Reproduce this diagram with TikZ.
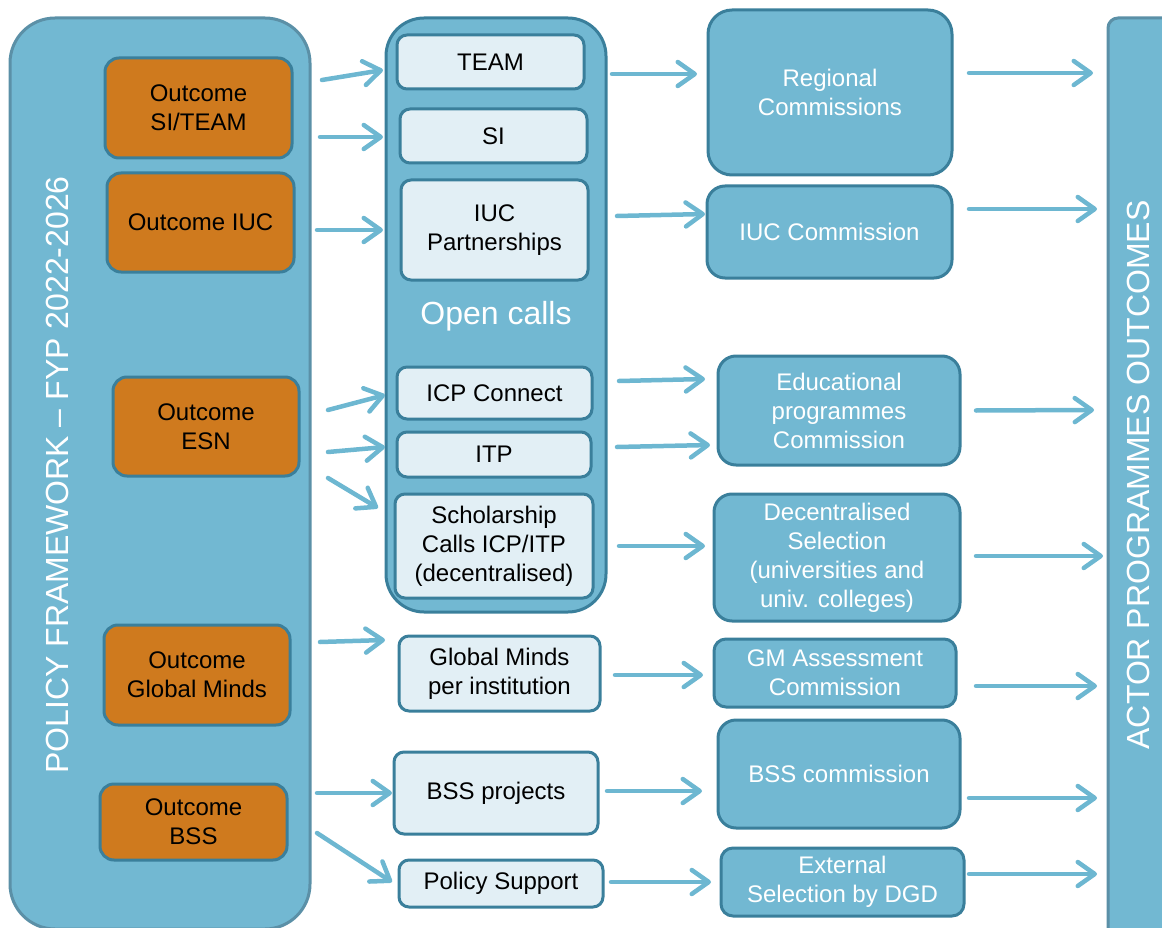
\documentclass[tikz,border=0pt]{standalone}
\usepackage{fontspec}
\setmainfont{Liberation Sans}
\usetikzlibrary{arrows.meta,calc}
\definecolor{bfill}{HTML}{72B8D2}
\definecolor{bdraw}{HTML}{3A7F9B}
\definecolor{gdraw}{HTML}{5B90A7}
\definecolor{lfill}{HTML}{E2EFF5}
\definecolor{ofill}{HTML}{CF7A1E}
\definecolor{acol}{HTML}{6DB7D1}
\tikzset{
  every node/.style={inner sep=0pt, outer sep=0pt, align=center, font=\fontsize{24}{29}\selectfont},
  bx/.style={draw, line width=3pt, anchor=north west},
  obox/.style={bx, fill=ofill, draw=bdraw, rounded corners=14pt, text=black},
  lbox/.style={bx, fill=lfill, draw=bdraw, rounded corners=10pt, text=black},
  bbox/.style={bx, fill=bfill, draw=bdraw, rounded corners=18pt, text=white},
  big/.style={bx, fill=bfill, draw=gdraw},
  vtext/.style={rotate=90, text=white, font=\fontsize{32}{38}\selectfont},
  arr/.style={draw=acol, line width=4.5pt, line cap=round,
    -{Straight Barb[length=17pt, width=24pt, line cap=round, line join=round]}}
}
\begin{document}
\begin{tikzpicture}[x=1pt,y=-1pt]
\useasboundingbox (0,0) rectangle (1162,928);
\clip (0,0) rectangle (1162,928);
% containers
\node[big, rounded corners=45pt, minimum width=300pt, minimum height=911pt] (lf) at (10,18) {};
\node[vtext] (lft) at (57,475) {POLICY FRAMEWORK – FYP 2022-2026};
\node[big, draw=bdraw, rounded corners=38pt, minimum width=220pt, minimum height=594pt] (mid) at (386,18) {};
\node[text=white, font=\fontsize{32}{38}\selectfont] (open) at (496,316) {Open calls};
\node[big, rounded corners=10pt, minimum width=72pt, minimum height=922pt] (rt) at (1108,18) {};
\node[vtext] (rtt) at (1138,475) {ACTOR PROGRAMMES OUTCOMES};
% outcomes
\node[obox, minimum width=187pt, minimum height=100pt] (o1) at (105,58) {Outcome\\SI/TEAM};
\node[obox, minimum width=187pt, minimum height=99pt] (o2) at (107,173) {Outcome IUC};
\node[obox, minimum width=186pt, minimum height=99pt] (o3) at (113,377) {Outcome\\ESN};
\node[obox, minimum width=186pt, minimum height=100pt] (o4) at (104,625) {Outcome\\Global Minds};
\node[obox, minimum width=187pt, minimum height=76pt] (o5) at (100,784) {Outcome\\BSS};
% programmes
\node[lbox, minimum width=187pt, minimum height=54pt] (team) at (397,35) {TEAM};
\node[lbox, minimum width=187pt, minimum height=54pt] (si) at (400,109) {SI};
\node[lbox, minimum width=187pt, minimum height=100pt] (iuc) at (401,180) {IUC\\Partnerships};
\node[lbox, minimum width=195pt, minimum height=52pt] (icp) at (397,367) {ICP Connect};
\node[lbox, minimum width=194pt, minimum height=45pt] (itp) at (397,432) {ITP};
\node[lbox, minimum width=198pt, minimum height=104pt] (sch) at (395,494) {Scholarship\\Calls ICP/ITP\\(decentralised)};
\node[lbox, minimum width=201pt, minimum height=75pt] (gm) at (399,636) {Global Minds\\per institution};
\node[lbox, minimum width=204pt, minimum height=82pt] (bss) at (394,752) {BSS projects};
\node[lbox, minimum width=204pt, minimum height=47pt] (pol) at (399,860) {Policy Support};
% commissions
\node[bbox, rounded corners=24pt, minimum width=244pt, minimum height=165pt] (reg) at (708,10) {Regional\\Commissions};
\node[bbox, minimum width=245pt, minimum height=92pt] (iucc) at (707,186) {IUC Commission};
\node[bbox, minimum width=242pt, minimum height=109pt] (edu) at (718,356) {Educational\\programmes\\Commission};
\node[bbox, minimum width=246pt, minimum height=127pt] (dec) at (714,494) {Decentralised\\Selection\\(universities and\\univ. colleges)};
\node[bbox, rounded corners=12pt, minimum width=242pt, minimum height=68pt] (gma) at (714,639) {GM Assessment\\Commission};
\node[bbox, minimum width=242pt, minimum height=108pt] (bssc) at (718,720) {BSS commission};
\node[bbox, rounded corners=12pt, minimum width=243pt, minimum height=68pt] (ext) at (721,848) {External\\Selection by DGD};
% arrows: outcomes -> programmes
\draw[arr] ($(o1.east)+(30,-28)$) -- ($(team.west)+(-14,8)$);
\draw[arr] ($(o1.east)+(28,29)$) -- ($(si.west)+(-17,1)$);
\draw[arr] ($(o2.east)+(23,7.5)$) -- ($(iuc.west)+(-18,0)$);
\draw[arr] ($(o3.east)+(29,-16.5)$) -- ($(icp.west)+(-12,2)$);
\draw[arr] ($(o3.east)+(29,25.5)$) -- ($(itp.west)+(-12,-7.5)$);
\draw[arr] ($(o3.east)+(29,51.5)$) -- ($(sch.west)+(-17,-38)$);
\draw[arr] ($(o4.east)+(30,-33)$) -- ($(gm.west)+(-14,-33.5)$);
\draw[arr] ($(o5.east)+(30,-29)$) -- ($(bss.west)+(-2,0)$);
\draw[arr] ($(o5.east)+(30,11)$) -- ($(pol.west)+(-7,-1.5)$);
% programmes -> commissions
\draw[arr] ($(team.east)+(28,12)$) -- ($(reg.west)+(-11,-18.5)$);
\draw[arr] ($(iuc.east)+(29,-14)$) -- ($(iucc.west)+(-2,-18)$);
\draw[arr] ($(icp.east)+(27,-12)$) -- ($(edu.west)+(-13,-31.5)$);
\draw[arr] ($(itp.east)+(26,-7.5)$) -- ($(edu.west)+(-8,34.5)$);
\draw[arr] ($(sch.east)+(26,0)$) -- ($(dec.west)+(-9,-11.5)$);
\draw[arr] ($(gm.east)+(15,1.5)$) -- ($(gma.west)+(-11,2)$);
\draw[arr] ($(bss.east)+(9,-2)$) -- ($(bssc.west)+(-16,17)$);
\draw[arr] ($(pol.east)+(8,-1.5)$) -- ($(ext.west)+(-10,0)$);
% commissions -> actor outcomes
\draw[arr] ($(reg.east)+(17,-19.5)$) -- ($(rt.north west)+(-15,55)$);
\draw[arr] ($(iucc.east)+(17,-23)$) -- ($(rt.north west)+(-11,191)$);
\draw[arr] ($(edu.east)+(16,0)$) -- ($(rt.north west)+(-14,392)$);
\draw[arr] ($(dec.east)+(16,-1.5)$) -- ($(rt.north west)+(-5,538)$);
\draw[arr] ($(gma.east)+(20,13)$) -- ($(rt.north west)+(-11,668)$);
\draw[arr] ($(bssc.east)+(9,24)$) -- ($(rt.north west)+(-11,780)$);
\draw[arr] ($(ext.east)+(5,-8)$) -- ($(rt.north west)+(-11,856)$);
\end{tikzpicture}
\end{document}
